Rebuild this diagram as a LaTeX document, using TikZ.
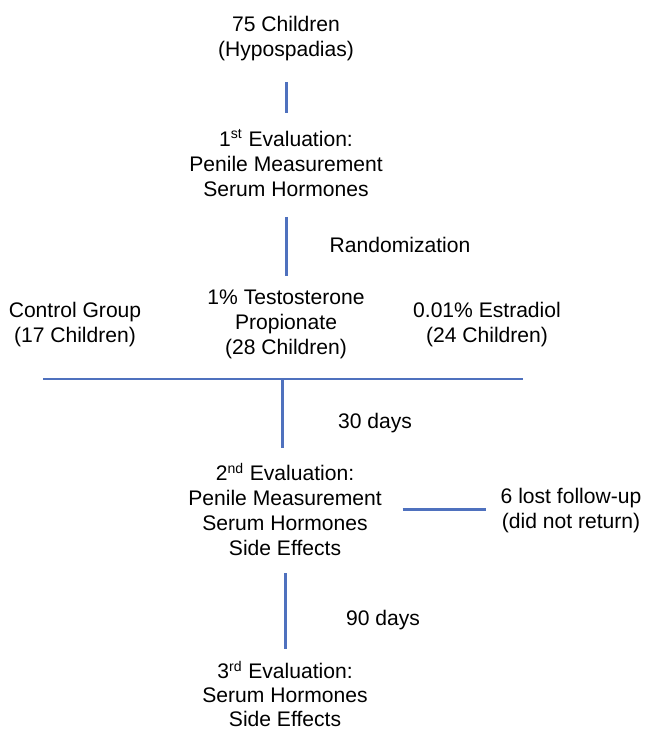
\documentclass[tikz,border=0pt]{standalone}
\usepackage{fontspec}
\setmainfont{Liberation Sans}
\usepackage{tikz}
\usetikzlibrary{positioning,calc}

\definecolor{linkblue}{RGB}{79,113,190}

\begin{document}
\begin{tikzpicture}[
    x=0.02cm, y=-0.02cm,
    txt/.style={inner sep=0pt, align=center,
                font=\fontsize{12}{14.2}\selectfont},
    link/.style={draw=linkblue, line width=1.7pt}
]
    \useasboundingbox (0,0) rectangle (647,732);

    % Enrolment and first evaluation
    \node[txt] (start) at (286,38.8) {75 Children\\(Hypospadias)};
    \node[txt] (eval1) at (286,163) {1\textsuperscript{st} Evaluation:\\Penile Measurement\\Serum Hormones};
    \node[txt] (rand) at (400,245) {Randomization};

    % Three groups
    \node[txt] (control) at (75,324.8) {Control Group\\(17 Children)};
    \node[txt] (testo) at (286,324.3) {1\% Testosterone\\Propionate\\(28 Children)};
    \node[txt] (estra) at (487,324.8) {0.01\% Estradiol\\(24 Children)};
    \coordinate (barL) at (43,379);
    \coordinate (barR) at (523,379);
    \coordinate (barM) at (282,379);

    % Follow-up
    \node[txt] (days30) at (375,423) {30 days};
    \node[txt] (eval2) at (285,509.5) {2\textsuperscript{nd} Evaluation:\\Penile Measurement\\Serum Hormones\\Side Effects};
    \node[txt] (lost) at (571,510.8) {6 lost follow-up\\(did not return)};
    \node[txt] (days90) at (383,620) {90 days};
    \node[txt, font=\fontsize{12}{13.6}\selectfont] (eval3) at (285,694) {3\textsuperscript{rd} Evaluation:\\Serum Hormones\\Side Effects};

    % Connectors
    \draw[link, shorten <=0.42cm, shorten >=0.32cm] (start) -- (start |- eval1.north);
    \draw[link, shorten <=0.4cm, shorten >=0.28cm] (eval1) -- (eval1 |- testo.north);
    \draw[link] (barL) -- (barR);
    \draw[link, shorten >=0.3cm] (barM) -- (barM |- eval2.north);
    \draw[link, shorten <=0.41cm, shorten >=0.28cm] (eval2.east) -- (eval2.east -| lost.west);
    \draw[link, shorten <=0.34cm, shorten >=0.24cm] (eval2) -- (eval2 |- eval3.north);
\end{tikzpicture}
\end{document}
